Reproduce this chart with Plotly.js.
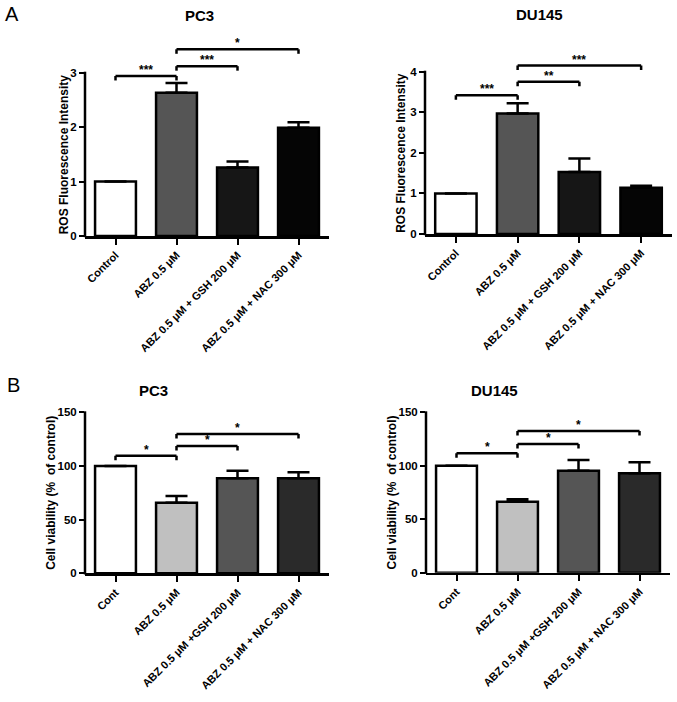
<!DOCTYPE html>
<html>
<head>
<meta charset="utf-8">
<script src="https://cdn.plot.ly/plotly-3.0.1.min.js"></script>
<style>html,body{margin:0;padding:0;background:#fff;}#chart{width:677px;height:702px;}</style>
</head>
<body>
<div id="chart"></div>
<script>
// ---------------- DATA ----------------
const rosCategories = ['Control', 'ABZ 0.5 μM', 'ABZ 0.5 μM + GSH 200 μM', 'ABZ 0.5 μM + NAC 300 μM'];
const viabCategories = ['Cont', 'ABZ 0.5 μM', 'ABZ 0.5 μM +GSH 200 μM', 'ABZ 0.5 μM + NAC 300 μM'];

const pc3Ros = [1.00, 2.63, 1.26, 1.99];
const pc3RosErr = [0, 0.18, 0.11, 0.10];
const du145Ros = [1.00, 2.97, 1.53, 1.14];
const du145RosErr = [0, 0.25, 0.33, 0.05];

const pc3Viab = [100, 65.8, 88.5, 88.5];
const pc3ViabErr = [0, 6.2, 7.1, 5.6];
const du145Viab = [100, 66.4, 95.4, 93.0];
const du145ViabErr = [0, 2.2, 10.0, 10.2];

const pc3RosTicks = [0, 1, 2, 3];
const du145RosTicks = [0, 1, 2, 3, 4];
const viabTicks = [0, 50, 100, 150];

// significance brackets: compared category pairs, labels, bracket heights (data units)
const sigPairs = [[0, 1], [1, 2], [1, 3]];
const pc3RosSigLabels = ['***', '***', '*'];
const pc3RosSigY = [2.94, 3.12, 3.43];
const du145RosSigLabels = ['***', '**', '***'];
const du145RosSigY = [3.42, 3.75, 4.15];
const pc3ViabSigLabels = ['*', '*', '*'];
const pc3ViabSigY = [109.6, 118.6, 129.8];
const du145ViabSigLabels = ['*', '*', '*'];
const du145ViabSigY = [111.7, 120.4, 132.5];

// ---------------- STYLE / LAYOUT ----------------
const W = 677, H = 702;
const FONT = 'Liberation Sans, Arial, Helvetica, sans-serif';
const rosColors = ['#ffffff', '#555555', '#161616', '#050505'];
const viabColors = ['#ffffff', '#c0c0c0', '#555555', '#2a2a2a'];
const px = v => v / W;
const py = v => 1 - v / H;
const bold = t => '<b>' + t + '</b>';

const panels = [
  {cats: rosCategories, vals: pc3Ros, errs: pc3RosErr, colors: rosColors, ticks: pc3RosTicks,
   left: 85, right: 329, zeroPx: 236, topTickPx: 72.7, ymax: 3.6,
   ytitle: 'ROS Fluorescence Intensity', ytitleX: 64, title: 'PC3', titleX: 199, titleY: 15,
   sigLabels: pc3RosSigLabels, sigY: pc3RosSigY},
  {cats: rosCategories, vals: du145Ros, errs: du145RosErr, colors: rosColors, ticks: du145RosTicks,
   left: 425, right: 672, zeroPx: 234, topTickPx: 71.7, ymax: 4.35,
   ytitle: 'ROS Fluorescence Intensity', ytitleX: 401, title: 'DU145', titleX: 539, titleY: 14,
   sigLabels: du145RosSigLabels, sigY: du145RosSigY},
  {cats: viabCategories, vals: pc3Viab, errs: pc3ViabErr, colors: viabColors, ticks: viabTicks,
   left: 85, right: 329, zeroPx: 573.3, topTickPx: 412.3, ymax: 153,
   ytitle: 'Cell viability (%  of control)', ytitleX: 51, title: 'PC3', titleX: 153, titleY: 390,
   sigLabels: pc3ViabSigLabels, sigY: pc3ViabSigY},
  {cats: viabCategories, vals: du145Viab, errs: du145ViabErr, colors: viabColors, ticks: viabTicks,
   left: 426, right: 670, zeroPx: 572.7, topTickPx: 412.3, ymax: 153,
   ytitle: 'Cell viability (%  of control)', ytitleX: 391, title: 'DU145', titleX: 494, titleY: 390,
   sigLabels: du145ViabSigLabels, sigY: du145ViabSigY}
];

const traces = [];
const layout = {
  width: W, height: H,
  margin: {l: 0, r: 0, t: 0, b: 0},
  paper_bgcolor: '#fff', plot_bgcolor: 'rgba(0,0,0,0)',
  showlegend: false,
  font: {family: FONT, color: '#000'},
  shapes: [], annotations: []
};

panels.forEach((p, i) => {
  const s = i === 0 ? '' : String(i + 1);
  const xa = 'x' + s, ya = 'y' + s;
  const topTick = p.ticks[p.ticks.length - 1];
  const ppu = (p.zeroPx - p.topTickPx) / topTick;   // pixels per data unit
  const topPx = p.zeroPx - p.ymax * ppu;

  traces.push({
    type: 'bar', x: p.cats, y: p.vals, xaxis: xa, yaxis: ya,
    width: 0.67,
    marker: {color: p.colors, line: {color: '#000', width: 2.5}},
    error_y: {type: 'data', array: p.errs, arrayminus: p.errs.map(() => 0), symmetric: false,
              color: '#000', thickness: 2.5, width: 11},
    hoverinfo: 'skip'
  });

  layout['xaxis' + s] = {
    domain: [px(p.left), px(p.right)], anchor: ya, type: 'category',
    range: [-0.5, 3.5], showline: true, linewidth: 2.5, linecolor: '#000',
    tickvals: p.cats, ticktext: p.cats.map(bold),
    ticks: 'outside', ticklen: 6, tickwidth: 2, tickcolor: '#000',
    tickangle: -45, tickfont: {family: FONT, size: 11, color: '#000'},
    showgrid: false, zeroline: false, fixedrange: true
  };
  layout['yaxis' + s] = {
    domain: [py(p.zeroPx), py(topPx)], anchor: xa,
    range: [0, p.ymax], showline: false,
    tickvals: p.ticks, ticktext: p.ticks.map(v => bold(String(v))),
    ticks: 'outside', ticklen: 5, tickwidth: 2, tickcolor: '#000',
    tickfont: {family: FONT, size: 11.5, color: '#000'},
    showgrid: false, zeroline: false, fixedrange: true
  };

  // y axis line spanning 0..top tick (GraphPad style), in paper coordinates
  layout.shapes.push({type: 'line', xref: 'paper', yref: 'paper',
    x0: px(p.left), x1: px(p.left), y0: py(p.zeroPx + 1.2), y1: py(p.topTickPx - 1),
    line: {color: '#000', width: 2.5}});

  // significance brackets
  const drop = 4.5 / ppu;
  sigPairs.forEach((pr, k) => {
    const y = p.sigY[k];
    const lw = {color: '#000', width: 2.5};
    layout.shapes.push({type: 'line', xref: xa, yref: ya, x0: pr[0], x1: pr[1], y0: y, y1: y, line: lw});
    layout.shapes.push({type: 'line', xref: xa, yref: ya, x0: pr[0], x1: pr[0], y0: y, y1: y - drop, line: lw});
    layout.shapes.push({type: 'line', xref: xa, yref: ya, x0: pr[1], x1: pr[1], y0: y, y1: y - drop, line: lw});
    layout.annotations.push({xref: xa, yref: ya, x: (pr[0] + pr[1]) / 2, y: y,
      text: bold(p.sigLabels[k]), showarrow: false, xanchor: 'center', yanchor: 'bottom', yshift: -3,
      font: {family: FONT, size: 12, color: '#000'}});
  });

  // y axis title
  layout.annotations.push({xref: 'paper', yref: 'paper', x: px(p.ytitleX),
    y: py((p.zeroPx + p.topTickPx) / 2), text: bold(p.ytitle), textangle: -90, showarrow: false,
    xanchor: 'center', yanchor: 'middle',
    font: {family: FONT, size: 12, color: '#000'}});

  // panel title
  layout.annotations.push({xref: 'paper', yref: 'paper', x: px(p.titleX), y: py(p.titleY),
    text: bold(p.title), showarrow: false, xanchor: 'center', yanchor: 'middle',
    font: {family: FONT, size: 15, color: '#000'}});
});

// panel letters
layout.annotations.push({xref: 'paper', yref: 'paper', x: px(12), y: py(14), text: 'A',
  showarrow: false, xanchor: 'center', yanchor: 'middle', font: {family: FONT, size: 20, color: '#000'}});
layout.annotations.push({xref: 'paper', yref: 'paper', x: px(13), y: py(385), text: 'B',
  showarrow: false, xanchor: 'center', yanchor: 'middle', font: {family: FONT, size: 20, color: '#000'}});

Plotly.newPlot('chart', traces, layout, {displayModeBar: false, staticPlot: true});
</script>
</body>
</html>
